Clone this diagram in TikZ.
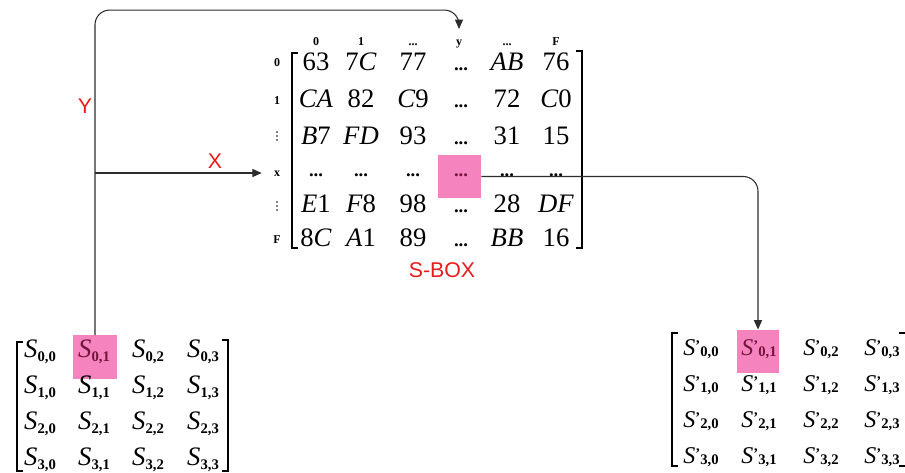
\documentclass[tikz,border=0pt]{standalone}
\usepackage{fontspec}
\setmainfont{Liberation Serif}
\newfontfamily\lsans{Liberation Sans}
\usetikzlibrary{arrows.meta}
\definecolor{pinkc}{RGB}{245,132,190}
\definecolor{onpink}{RGB}{115,20,60}
\definecolor{redc}{RGB}{232,28,28}
\definecolor{linec}{RGB}{45,45,45}
\newcommand{\Sm}[1]{\textit{S}\raisebox{-0.35ex}{\fontsize{11}{11}\selectfont\bfseries #1}}
\newcommand{\Sp}[1]{\textit{S}{\fontsize{11}{11}\selectfont\bfseries\raisebox{0.7ex}{'}\raisebox{-0.2ex}{#1}}}
\newcommand{\dts}{{\fontsize{14}{14}\selectfont\bfseries ...}}
\begin{document}
\begin{tikzpicture}[x=0.75pt,y=-0.75pt,
  ent/.style={anchor=base, inner sep=0pt, font=\fontsize{20}{20}\selectfont},
  entR/.style={anchor=base, inner sep=0pt, font=\fontsize{18}{18}\selectfont},
  hdr/.style={anchor=base, inner sep=0pt, font=\fontsize{9}{9}\selectfont\bfseries},
  rlab/.style={inner sep=0pt, font=\fontsize{9}{9}\selectfont\bfseries},
  vdot/.style={inner sep=0pt, minimum size=1pt},
  lbl/.style={inner sep=0pt, text=redc, font=\fontsize{16}{16}\selectfont\lsans},
  hl/.style={fill=pinkc, draw=none, inner sep=0pt, minimum width=32.5pt, minimum height=32.5pt},
  conn/.style={draw=linec, line width=0.8pt, rounded corners=11pt},
  tip/.style={-{Triangle[length=7pt,width=6pt]}},
  brk/.style={draw=black, line width=1.1pt}]
\useasboundingbox (0,0) rectangle (905,472);

% highlight boxes
\node[hl] (hlL) at (95,357) {};
\node[hl] (hlB) at (459.5,176.5) {};
\node[hl, minimum width=31.5pt] (hlR) at (758,351.5) {};

% S-box headers
\node[hdr] (h0) at (316,45) {0};
\node[hdr] (h1) at (361,45) {1};
\node[hdr] (h2) at (413,45) {...};
\node[hdr] (hy) at (459,45) {y};
\node[hdr] (h4) at (507,45) {...};
\node[hdr] (hF) at (556,45) {F};
% row labels
\node[rlab] (r0) at (277,63) {0};
\node[rlab] (r1) at (277,101) {1};
\node[vdot] (r2) at (277,136) {};
\node[rlab] (rx) at (277,174) {x};
\node[vdot] (r4) at (277,206) {};
\node[rlab] (rF) at (277,240) {F};
\foreach \v in {r2,r4}{
  \fill (\v) ++(0,-4) circle (0.9);
  \fill (\v) circle (0.9);
  \fill (\v) ++(0,4) circle (0.9);
}

% S-box entries
\node[ent] (b00) at (316,70) {63};
\node[ent] (b01) at (361,70) {7\textit{C}};
\node[ent] (b02) at (413,70) {77};
\node[ent] (b03) at (461,70) {\dts};
\node[ent] (b04) at (507,70) {\textit{AB}};
\node[ent] (b05) at (556,70) {76};
\node[ent] (b10) at (316,107) {\textit{CA}};
\node[ent] (b11) at (361,107) {82};
\node[ent] (b12) at (413,107) {\textit{C}9};
\node[ent] (b13) at (461,107) {\dts};
\node[ent] (b14) at (507,107) {72};
\node[ent] (b15) at (556,107) {\textit{C}0};
\node[ent] (b20) at (316,144) {\textit{B}7};
\node[ent] (b21) at (361,144) {\textit{FD}};
\node[ent] (b22) at (413,144) {93};
\node[ent] (b23) at (461,144) {\dts};
\node[ent] (b24) at (507,144) {31};
\node[ent] (b25) at (556,144) {15};
\node[ent] (b30) at (316,176) {\dts};
\node[ent] (b31) at (361,176) {\dts};
\node[ent] (b32) at (413,176) {\dts};
\node[ent, text=onpink] (b33) at (461,176) {\dts};
\node[ent] (b34) at (507,176) {\dts};
\node[ent] (b35) at (556,176) {\dts};
\node[ent] (b40) at (316,212) {\textit{E}1};
\node[ent] (b41) at (361,212) {\textit{F}8};
\node[ent] (b42) at (413,212) {98};
\node[ent] (b43) at (461,212) {\dts};
\node[ent] (b44) at (507,212) {28};
\node[ent] (b45) at (556,212) {\textit{DF}};
\node[ent] (b50) at (316,246) {8\textit{C}};
\node[ent] (b51) at (361,246) {\textit{A}1};
\node[ent] (b52) at (413,246) {89};
\node[ent] (b53) at (461,246) {\dts};
\node[ent] (b54) at (507,246) {\textit{BB}};
\node[ent] (b55) at (556,246) {16};
% S-box brackets
\draw[brk] (298,53) -- (292,53) -- (292,248) -- (298,248);
\draw[brk] (576,51) -- (582,51) -- (582,248) -- (576,248);

% left state matrix
\node[ent] (s00) at (40,357) {\Sm{0,0}};
\node[ent, text=onpink] (s01) at (94,357) {\Sm{0,1}};
\node[ent] (s02) at (148,357) {\Sm{0,2}};
\node[ent] (s03) at (203,357) {\Sm{0,3}};
\node[ent] (s10) at (40,393) {\Sm{1,0}};
\node[ent] (s11) at (94,393) {\Sm{1,1}};
\node[ent] (s12) at (148,393) {\Sm{1,2}};
\node[ent] (s13) at (203,393) {\Sm{1,3}};
\node[ent] (s20) at (40,429) {\Sm{2,0}};
\node[ent] (s21) at (94,429) {\Sm{2,1}};
\node[ent] (s22) at (148,429) {\Sm{2,2}};
\node[ent] (s23) at (203,429) {\Sm{2,3}};
\node[ent] (s30) at (40,465) {\Sm{3,0}};
\node[ent] (s31) at (94,465) {\Sm{3,1}};
\node[ent] (s32) at (148,465) {\Sm{3,2}};
\node[ent] (s33) at (203,465) {\Sm{3,3}};
\draw[brk] (23,342) -- (17,342) -- (17,471) -- (23,471);
\draw[brk] (222,340) -- (228,340) -- (228,471) -- (222,471);

% right state matrix
\node[entR] (t00) at (701,355) {\Sp{0,0}};
\node[entR, text=onpink] (t01) at (759,355) {\Sp{0,1}};
\node[entR] (t02) at (821,355) {\Sp{0,2}};
\node[entR] (t03) at (882,355) {\Sp{0,3}};
\node[entR] (t10) at (701,391) {\Sp{1,0}};
\node[entR] (t11) at (759,391) {\Sp{1,1}};
\node[entR] (t12) at (821,391) {\Sp{1,2}};
\node[entR] (t13) at (882,391) {\Sp{1,3}};
\node[entR] (t20) at (701,427) {\Sp{2,0}};
\node[entR] (t21) at (759,427) {\Sp{2,1}};
\node[entR] (t22) at (821,427) {\Sp{2,2}};
\node[entR] (t23) at (882,427) {\Sp{2,3}};
\node[entR] (t30) at (701,463) {\Sp{3,0}};
\node[entR] (t31) at (759,463) {\Sp{3,1}};
\node[entR] (t32) at (821,463) {\Sp{3,2}};
\node[entR] (t33) at (882,463) {\Sp{3,3}};
\draw[brk] (678,333) -- (672,333) -- (672,466) -- (678,466);
\draw[brk] (899,333) -- (907,333) -- (907,466) -- (899,466);

% labels
\node[lbl] (lY) at (85,106) {Y};
\node[lbl] (lX) at (215,161) {X};
\node[lbl] (lS) at (442,270) {S-BOX};

% connectors
\coordinate (ytip) at (459,29);
\coordinate (xstart) at (95,173);
\draw[conn,tip] (hlL.north) -- ++(0,-325) -| (ytip);
\draw[conn,tip,shorten >=9pt] (xstart) -- (rx.west |- xstart);
\draw[conn,tip] (hlB.east) -| (hlR.north);
\end{tikzpicture}
\end{document}
